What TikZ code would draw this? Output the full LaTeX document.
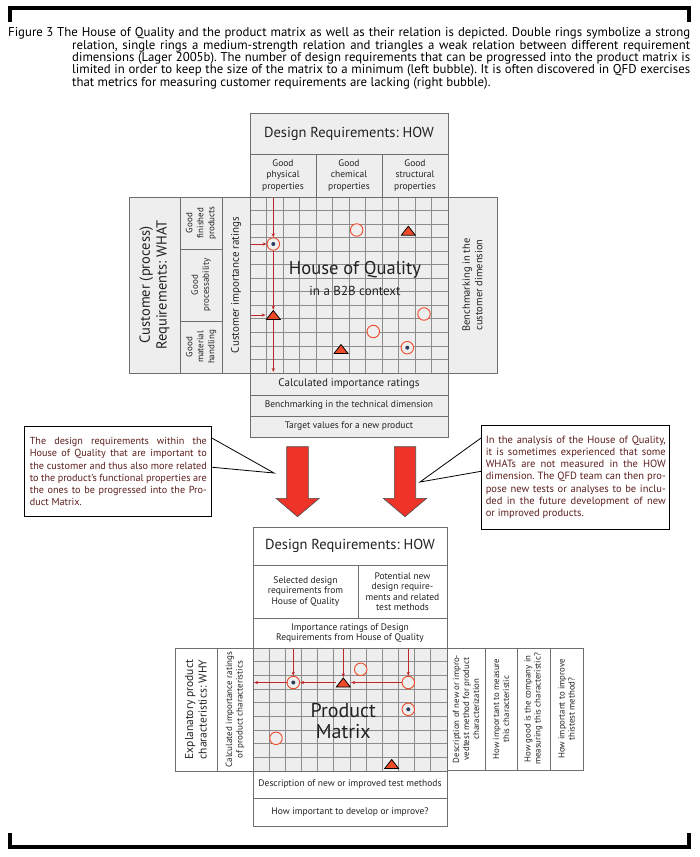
\documentclass[tikz,border=0pt]{standalone}
\usepackage{fontspec}
\setmainfont{PT Sans}
\usetikzlibrary{arrows.meta}
\usetikzlibrary{calc}

\definecolor{boxgray}{HTML}{EEEEEE}
\definecolor{boxline}{HTML}{6E6E6E}
\definecolor{gridline}{HTML}{8C8C8C}
\definecolor{relred}{HTML}{EE4B2B}
\definecolor{linkred}{HTML}{C0272D}
\definecolor{dotblue}{HTML}{2C3E5C}
\definecolor{bubtext}{HTML}{5E1F1F}
\definecolor{bigred}{HTML}{EE3429}
\definecolor{txtdark}{HTML}{222222}

\newcommand{\fsz}[2]{\fontsize{#1}{#2}\selectfont}
\newcommand{\jrow}[2]{\makebox[#1pt][s]{#2}}
\frenchspacing

\begin{document}
\begin{tikzpicture}[x=1pt, y=-1pt, >={Stealth[length=4pt,width=3.2pt]},
  hbox/.style={draw=boxline, fill=boxgray, line width=0.8pt, inner sep=0pt, align=center, text=txtdark},
  pbox/.style={hbox, fill=white},
  ring/.style={circle, draw=relred, line width=0.9pt, fill=boxgray, minimum size=12.5pt, inner sep=0pt},
  dring/.style={ring, path picture={\fill[dotblue] (path picture bounding box.center) circle (2pt);}},
  tri/.style={inner sep=0pt, minimum width=15pt, minimum height=10pt,
    path picture={\filldraw[fill=relred, draw=black, line width=0.8pt]
      ([shift={(0.5pt,0.5pt)}]path picture bounding box.south west) --
      ([shift={(-0.5pt,0.5pt)}]path picture bounding box.south east) --
      ([yshift=-0.5pt]path picture bounding box.north) -- cycle;}},
  link/.style={->, draw=linkred, line width=0.8pt},
  bubble/.style={draw=black, line width=0.9pt, fill=white, text=bubtext, inner sep=0pt, align=left},
  bigarrow/.style={fill=bigred, draw=black!70, line width=0.6pt},
]
\useasboundingbox (0,0) rectangle (699,857);

\draw[line width=4pt] (10,22) -- (10,8) -- (689,8) -- (689,22);
\draw[line width=4pt] (10,833) -- (10,847) -- (689,847) -- (689,833);

\node[anchor=north west, inner sep=0pt, font=\fsz{12.8}{12.3}] (figlab) at (8,27.5) {Figure 3};
\node[anchor=north west, inner sep=0pt, align=left, font=\fsz{12.8}{12.3}] (cap) at (57,27.5)
 {\jrow{633}{The House of Quality and the product matrix as well as their relation is depicted. Double rings symbolize a strong}\\
  \hspace*{15pt}\jrow{618}{relation, single rings a medium-strength relation and triangles a weak relation between different requirement}\\
  \hspace*{15pt}\jrow{618}{dimensions (Lager 2005b). The number of design requirements that can be progressed into the product matrix is}\\
  \hspace*{15pt}\jrow{618}{limited in order to keep the size of the matrix to a minimum (left bubble). It is often discovered in QFD exercises}\\
  \hspace*{15pt}that metrics for measuring customer requirements are lacking (right bubble).};

% house of quality
\node[hbox, minimum width=198, minimum height=41, font=\fsz{14.5}{17}] (how) at (349,133.5) {Design Requirements: HOW};
\node[hbox, minimum width=66, minimum height=43, font=\fsz{9.5}{11.3}] (h1) at (283,175.5) {Good\\physical\\properties};
\node[hbox, minimum width=66, minimum height=43, font=\fsz{9.5}{11.3}] (h2) at (349,175.5) {Good\\chemical\\properties};
\node[hbox, minimum width=66, minimum height=43, font=\fsz{9.5}{11.3}] (h3) at (415,175.5) {Good\\structural\\properties};
\node[hbox, rotate=90, minimum width=176, minimum height=51, font=\fsz{14.5}{16.7}] (what) at (154.5,285) {Customer (process)\\Requirements: WHAT};
\node[hbox, rotate=90, minimum width=52, minimum height=42, font=\fsz{9}{11}] (w1) at (201,223) {Good\\finished\\products};
\node[hbox, rotate=90, minimum width=72, minimum height=42, font=\fsz{9}{11}] (w2) at (201,285) {Good\\processability};
\node[hbox, rotate=90, minimum width=52, minimum height=42, font=\fsz{9}{11}] (w3) at (201,347) {Good\\material\\handling};
\node[hbox, rotate=90, minimum width=176, minimum height=28, font=\fsz{11}{13}] (cir) at (236,285) {Customer importance ratings};
\node[hbox, rotate=90, minimum width=176, minimum height=49, font=\fsz{10.5}{12.6}] (bcd) at (472.5,285) {Benchmarking in the\\customer dimension};
\node[hbox, minimum width=198, minimum height=22, font=\fsz{11}{13}] (cimp) at (349,384) {Calculated importance ratings};
\node[hbox, minimum width=198, minimum height=21, font=\fsz{9.5}{11}] (btd) at (349,405.5) {Benchmarking in the technical dimension};
\node[hbox, minimum width=198, minimum height=21, font=\fsz{9.5}{11}] (tval) at (349,426.5) {Target values for a new product};

\fill[boxgray] (250,197) rectangle (448,373);
\foreach \i in {1,...,11} \draw[gridline, line width=0.8pt] ({250+\i*16.5},197) -- ({250+\i*16.5},373);
\foreach \j in {1,...,12} \draw[gridline, line width=0.8pt] (250,{197+\j*13.54}) -- (448,{197+\j*13.54});
\draw[boxline, line width=0.8pt] (250,197) rectangle (448,373);

\node[font=\fsz{18.5}{20}, text=txtdark, inner sep=0pt] (hoq) at (355,270) {House of Quality};
\node[font=\fsz{13}{15}, text=txtdark, inner sep=0pt] (btb) at (355,290.5) {in a B2B context};

\node[ring] (r1) at (356.7,230) {};
\node[tri] (t1) at (408.3,230.7) {};
\node[dring] (d1) at (273.3,244) {};
\node[tri] (t2) at (273.3,315) {};
\node[ring] (r2) at (424,314) {};
\node[ring] (r3) at (373.3,331.5) {};
\node[tri] (t3) at (341,349) {};
\node[dring] (d2) at (407.3,347.7) {};

\coordinate (a0) at (273.3,197.5);
\coordinate (a1) at (273.3,372);
\coordinate (a2) at (251,244);
\coordinate (a3) at (251,315);
 \draw [link] (a0)--(d1);
 \draw [link] (d1)--(t2);
 \draw [link] (t2)--(a1);
 \draw [link] (a2)--(d1);
 \draw [link] (a3)--(t2);

% bubbles and arrows
\node[bubble, minimum width=187, minimum height=90, font=\fsz{10.2}{12.2}] (lb) at (118.3,471.7)
 {\jrow{177}{The design requirements within the}\\
  \jrow{177}{House of Quality that are important to}\\
  \jrow{177}{the customer and thus also more related}\\
  \jrow{177}{to the product's functional properties are}\\
  \jrow{177}{the ones to be progressed into the Pro-}\\
  duct Matrix.};
\node[bubble, minimum width=188, minimum height=104, font=\fsz{10.5}{12.2}] (rb) at (575.8,477.2)
 {\jrow{180}{In the analysis of the House of Quality,}\\
  \jrow{180}{it is sometimes experienced that some}\\
  \jrow{180}{WHATs are not measured in the HOW}\\
  \jrow{180}{dimension. The QFD team can then pro-}\\
  \jrow{180}{pose new tests or analyses to be inclu-}\\
  \jrow{180}{ded in the future development of new}\\
  or improved products.};
\coordinate (ltip) at (274,473);
\coordinate (rtip) at (420,482);
 \draw [line width=0.8pt] ([yshift=-12pt]lb.north east)--(ltip)--([yshift=-41pt]lb.north east);
 \draw [line width=0.8pt] ([yshift=-13pt]rb.north west)--(rtip)--([yshift=-46.5pt]rb.north west);

\filldraw[bigarrow] (286.7,446.7) -- (308.3,446.7) -- (308.3,498.3) -- (319.3,498.3) -- (297.5,516.7) -- (276,498.3) -- (286.7,498.3) -- cycle;
\filldraw[bigarrow] (394.3,446.7) -- (415.7,446.7) -- (415.7,498.3) -- (426.7,498.3) -- (405,516.7) -- (383.3,498.3) -- (394.3,498.3) -- cycle;

% product matrix
\node[pbox, minimum width=194, minimum height=38, font=\fsz{14.5}{17}] (phow) at (350,546) {Design Requirements: HOW};
\node[pbox, minimum width=105, minimum height=53, font=\fsz{9.5}{10.4}] (sel) at (305.5,591.5) {Selected design\\requirements from\\House of Quality};
\node[pbox, minimum width=89, minimum height=53, font=\fsz{9.5}{10.4}] (pot) at (402.5,591.5) {Potential new\\design require-\\ments and related\\test methods};
\node[pbox, minimum width=194, minimum height=30, font=\fsz{9.5}{10.2}] (impr) at (350,633) {Importance ratings of Design\\Requirements from House of Quality};
\node[pbox, rotate=90, minimum width=123, minimum height=42, font=\fsz{11.5}{13.5}] (why) at (196,709.5) {Explanatory product\\characteristics: WHY};
\node[pbox, rotate=90, minimum width=123, minimum height=36, font=\fsz{9}{10.5}] (cpr) at (235,709.5) {Calculated importance ratings\\of product characteristics};
\node[pbox, rotate=90, minimum width=122, minimum height=38, font=\fsz{8.8}{10}] (rc1) at (466,709) {Description of new or impro-\\vedtest method for product\\characterization};
\node[pbox, rotate=90, minimum width=122, minimum height=32, font=\fsz{8.8}{10}] (rc2) at (501,709) {How important to measure\\this characteristic};
\node[pbox, rotate=90, minimum width=122, minimum height=33, font=\fsz{8.8}{10}] (rc3) at (533.5,709) {How good is the company in\\measuring this characteristic?};
\node[pbox, rotate=90, minimum width=122, minimum height=33, font=\fsz{8.8}{10}] (rc4) at (566.5,709) {How important to improve\\thistest method?};
\node[pbox, minimum width=194, minimum height=27, font=\fsz{9.5}{11}] (dnt) at (350,784.5) {Description of new or improved test methods};
\node[pbox, minimum width=194, minimum height=28, font=\fsz{9.5}{11}] (hid) at (350,812) {How important to develop or improve?};

\fill[boxgray] (253,648) rectangle (447,771);
\foreach \i in {1,...,11} \draw[gridline, line width=0.8pt] ({253+\i*16.17},648) -- ({253+\i*16.17},771);
\foreach \j in {1,...,8} \draw[gridline, line width=0.8pt] (253,{648+\j*13.67}) -- (447,{648+\j*13.67});
\draw[boxline, line width=0.8pt] (253,648) rectangle (447,771);

\node[font=\fsz{20}{21}, text=txtdark, align=center, inner sep=0pt] (pm) at (343.3,721.3) {Product\\Matrix};

\node[ring] (pr1) at (360.7,669.3) {};
\node[dring] (pd1) at (293.3,682.5) {};
\node[tri] (pt1) at (343.3,682.5) {};
\node[ring] (pr2) at (408.3,682.5) {};
\node[dring] (pd2) at (408.3,709.3) {};
\node[ring] (pr3) at (276,738.3) {};
\node[tri] (pt2) at (391.7,764) {};

\coordinate (b0) at (293.3,648.5);
\coordinate (b1) at (343.3,648.5);
\coordinate (b2) at (408.3,648.5);
\coordinate (b3) at (254,682.5);
 \draw [link] (b0)--(pd1);
 \draw [link] (b1)--(pt1);
 \draw [link] (b2)--(pr2);
 \draw [link] (pr2)--(pt1);
 \draw [link] (pt1)--(pd1);
 \draw [link] (pd1)--(b3);
\end{tikzpicture}
\end{document}
